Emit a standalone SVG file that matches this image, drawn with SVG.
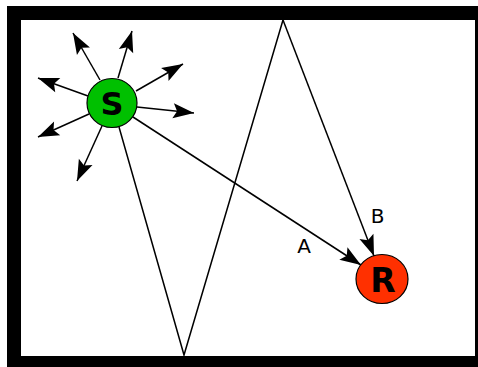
<svg xmlns="http://www.w3.org/2000/svg" width="478" height="367" viewBox="0 0 478 367">
<style>
.ln{fill:none;stroke:#000;stroke-width:1.5}
.ar{marker-end:url(#head)}
.nd{stroke:#000;stroke-width:1.2}
.big{font-family:"DejaVu Sans",sans-serif;font-weight:bold;text-anchor:middle;fill:#000}
.lbl{font-family:"DejaVu Sans",sans-serif;font-size:20px;text-anchor:middle;fill:#000}
</style>
<defs>
<marker id="head" markerUnits="userSpaceOnUse" viewBox="-23 -9 25 18" markerWidth="25" markerHeight="18" refX="0" refY="0" orient="auto" overflow="visible">
<path d="M0,0 L-21,-7.5 L-17,0 L-21,7.5 Z" fill="#000"/>
</marker>
</defs>
<rect x="0" y="0" width="478" height="367" fill="#fff"/>
<g id="frame">
<rect x="14" y="13" width="468" height="350" fill="none" stroke="#000" stroke-width="14"/>
</g>
<g id="connectors">
<line class="ln ar" x1="100" y1="80" x2="73" y2="33"/>
<line class="ln ar" x1="118" y1="78" x2="132" y2="31"/>
<line class="ln ar" x1="136" y1="91" x2="183" y2="64"/>
<line class="ln ar" x1="137" y1="107" x2="194" y2="113"/>
<line class="ln ar" x1="88" y1="96" x2="38" y2="78"/>
<line class="ln ar" x1="89" y1="114" x2="38" y2="137"/>
<line class="ln ar" x1="102" y1="126" x2="77" y2="181"/>
<polyline class="ln" points="119,127 184,355 283,20"/>
<line class="ln ar" x1="283" y1="20" x2="374" y2="256"/>
<line class="ln ar" x1="133" y1="117" x2="361" y2="265"/>
<text class="lbl" x="304" y="252.5">A</text>
<text class="lbl" x="377.5" y="223">B</text>
</g>
<g id="S">
<ellipse class="nd" cx="112" cy="103" rx="25" ry="24.5" fill="#00c000"/>
<text class="big" x="112" y="114.5" font-size="32">S</text>
</g>
<g id="R">
<ellipse class="nd" cx="382" cy="279" rx="26" ry="24.5" fill="#ff3000"/>
<text class="big" x="383" y="291.5" font-size="33">R</text>
</g>
</svg>
